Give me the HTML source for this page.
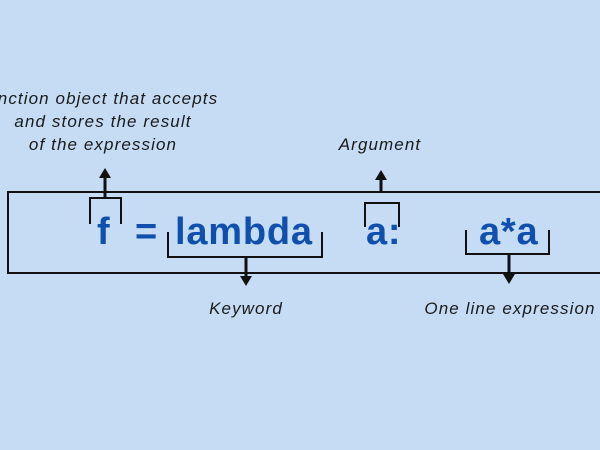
<!DOCTYPE html>
<html><head><style>
body{margin:0;width:600px;height:450px;background:#c6dcf5;overflow:hidden;position:relative;font-family:"Liberation Sans",sans-serif}
.t{position:absolute;font-style:italic;font-size:17px;color:#1a1a1a;white-space:nowrap;transform:translateX(-50%);letter-spacing:1.1px}
.c{position:absolute;font-weight:bold;font-size:38px;color:#0f4fae;white-space:nowrap;letter-spacing:0.8px}
</style></head><body>
<div class="t" style="left:108px;top:89px">nction object that accepts</div>
<div class="t" style="left:103px;top:112px">and stores the result</div>
<div class="t" style="left:103px;top:135px">of the expression</div>
<div class="t" style="left:380px;top:135px">Argument</div>
<div class="t" style="left:246px;top:299px">Keyword</div>
<div class="t" style="left:510px;top:299px">One line expression</div>
<svg width="600" height="450" style="position:absolute;left:0;top:0">
<g stroke="#111" stroke-width="2" fill="none">
<path d="M610 192 H8 V273 H610"/>
<path d="M90 224 V198 H121 V224"/>
<path d="M168 232 V257 H322 V232"/>
<path d="M365 227 V203 H399 V227"/>
<path d="M466 230 V254 H549 V230"/>
</g>
<g stroke="#111" stroke-width="3" fill="none">
<path d="M105 198 V176"/>
<path d="M246 257 V278"/>
<path d="M381 192 V178"/>
<path d="M509 254 V276"/>
</g>
<g fill="#111">
<path d="M99 178 L105 168 L111 178Z"/>
<path d="M240 276 L246 286 L252 276Z"/>
<path d="M375 180 L381 170 L387 180Z"/>
<path d="M503 274 L509 284 L515 274Z"/>
</g>
</svg>
<div class="c" style="left:97px;top:211px">f</div>
<div class="c" style="left:135px;top:211px">=</div>
<div class="c" style="left:175px;top:211px">lambda</div>
<div class="c" style="left:366px;top:211px">a:</div>
<div class="c" style="left:479px;top:211px">a*a</div>
</body></html>
